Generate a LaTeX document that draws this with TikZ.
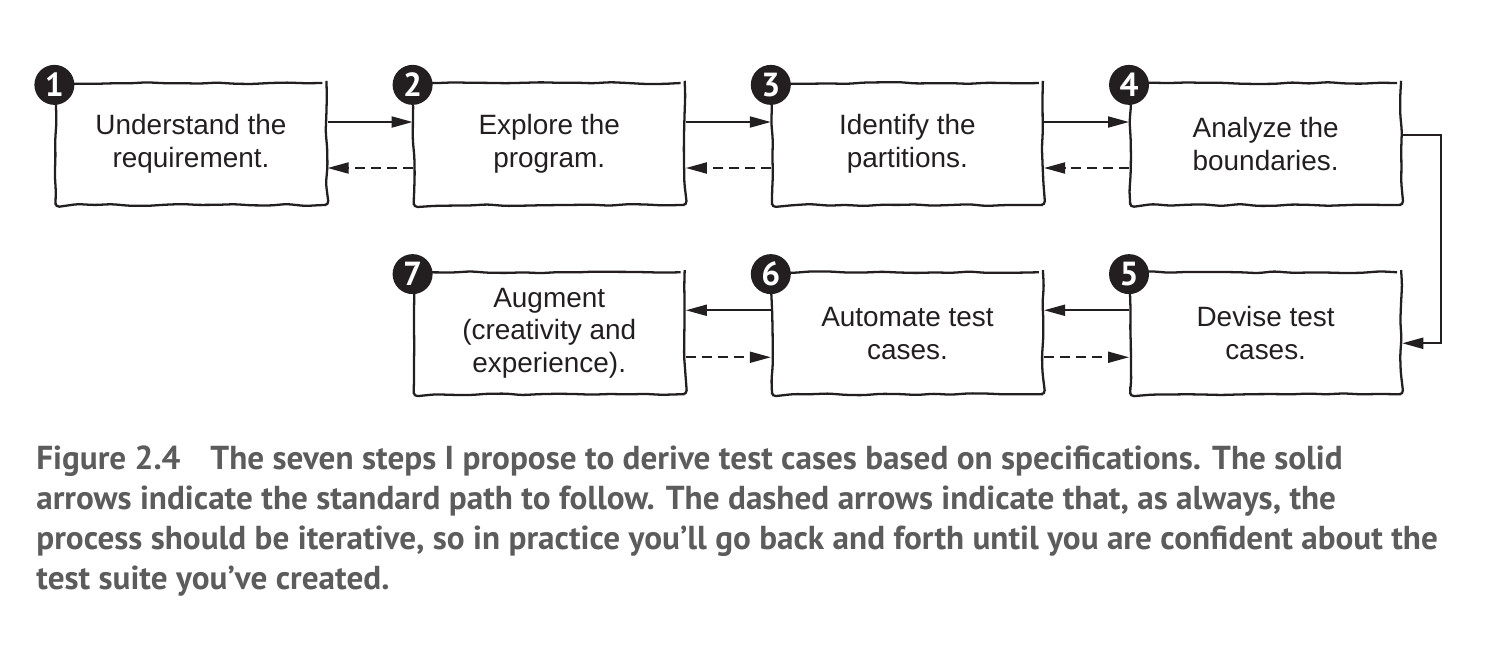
\documentclass[tikz,border=0pt]{standalone}
\usepackage{fontspec}
\setmainfont{Liberation Sans}
\newfontfamily\capfont{PT Sans}
\usetikzlibrary{arrows.meta}
\usetikzlibrary{positioning}
\usetikzlibrary{decorations.pathmorphing}

\definecolor{inkcol}{HTML}{231F20}
\definecolor{capcol}{HTML}{5C5C5C}

\tikzset{
  stepbox/.style={draw=inkcol, line width=1.3pt, minimum width=5.42cm, minimum height=2.44cm,
    align=center, text=inkcol, font=\fontsize{15.9}{18.7}\selectfont,
    decorate, decoration={random steps, segment length=0.35cm, amplitude=0.02cm},
    rounded corners=0.08cm},
  badge/.style={circle, fill=inkcol, text=white, minimum size=0.8cm, inner sep=0pt,
    font=\capfont\bfseries\fontsize{19}{19}\selectfont},
  flow/.style={draw=inkcol, line width=1.1pt, -{Triangle[length=0.42cm,width=0.22cm]}},
  back/.style={flow, dash pattern=on 0.2cm off 0.12cm}
}

\begin{document}
\begin{tikzpicture}[x=0.02cm, y=-0.02cm, node distance=1.3cm and 1.70cm]
  \useasboundingbox (0,0) rectangle (1502,647);
  \pgfmathsetseed{7}
  % top row
  \node[stepbox] (s1) at (191,144) {Understand the\\requirement.};
  \node[stepbox, right=of s1] (s2) {Explore the\\program.};
  \node[stepbox, right=of s2] (s3) {Identify the\\partitions.};
  \node[stepbox, right=of s3] (s4) {Analyze the\\boundaries.};
  % bottom row
  \node[stepbox, below=of s4] (s5) {Devise test\\cases.};
  \node[stepbox, left=of s5] (s6) {Automate test\\cases.};
  \node[stepbox, left=of s6] (s7) {Augment\\(creativity and\\experience).};

  \node[badge] (n1) at ([yshift=-0.06cm]s1.north west) {1};
  \node[badge] (n2) at ([yshift=-0.06cm]s2.north west) {2};
  \node[badge] (n3) at ([yshift=-0.06cm]s3.north west) {3};
  \node[badge] (n4) at ([yshift=-0.06cm]s4.north west) {4};
  \node[badge] (n5) at ([yshift=-0.06cm]s5.north west) {5};
  \node[badge] (n6) at ([yshift=-0.06cm]s6.north west) {6};
  \node[badge] (n7) at ([yshift=-0.06cm]s7.north west) {7};

  \draw[flow] ([yshift=0.44cm]s1.east) -- ([yshift=0.44cm]s2.west);
  \draw[flow] ([yshift=0.44cm]s2.east) -- ([yshift=0.44cm]s3.west);
  \draw[flow] ([yshift=0.44cm]s3.east) -- ([yshift=0.44cm]s4.west);
  \draw[back] ([yshift=-0.48cm]s2.west) -- ([yshift=-0.48cm]s1.east);
  \draw[back] ([yshift=-0.48cm]s3.west) -- ([yshift=-0.48cm]s2.east);
  \draw[back] ([yshift=-0.48cm]s4.west) -- ([yshift=-0.48cm]s3.east);

  \draw[flow] ([yshift=0.18cm]s4.east) -- ++(0.78cm,0) |- ([yshift=-0.2cm]s5.east);

  \draw[flow] ([yshift=0.46cm]s5.west) -- ([yshift=0.46cm]s6.east);
  \draw[flow] ([yshift=0.46cm]s6.west) -- ([yshift=0.46cm]s7.east);
  \draw[back] ([yshift=-0.48cm]s7.east) -- ([yshift=-0.48cm]s6.west);
  \draw[back] ([yshift=-0.48cm]s6.east) -- ([yshift=-0.48cm]s5.west);

  % caption
  \node[anchor=base west, align=left, inner sep=0pt, text=capcol,
    font=\capfont\bfseries\fontsize{18.9}{22.7}\selectfont] (cap) at (36,589)
    {Figure 2.4\hspace{0.9em}The seven steps I propose to derive test cases based on specifications. The solid\\
     arrows indicate the standard path to follow. The dashed arrows indicate that, as always, the\\
     process should be iterative, so in practice you’ll go back and forth until you are confident about the\\
     test suite you’ve created.};
\end{tikzpicture}
\end{document}
